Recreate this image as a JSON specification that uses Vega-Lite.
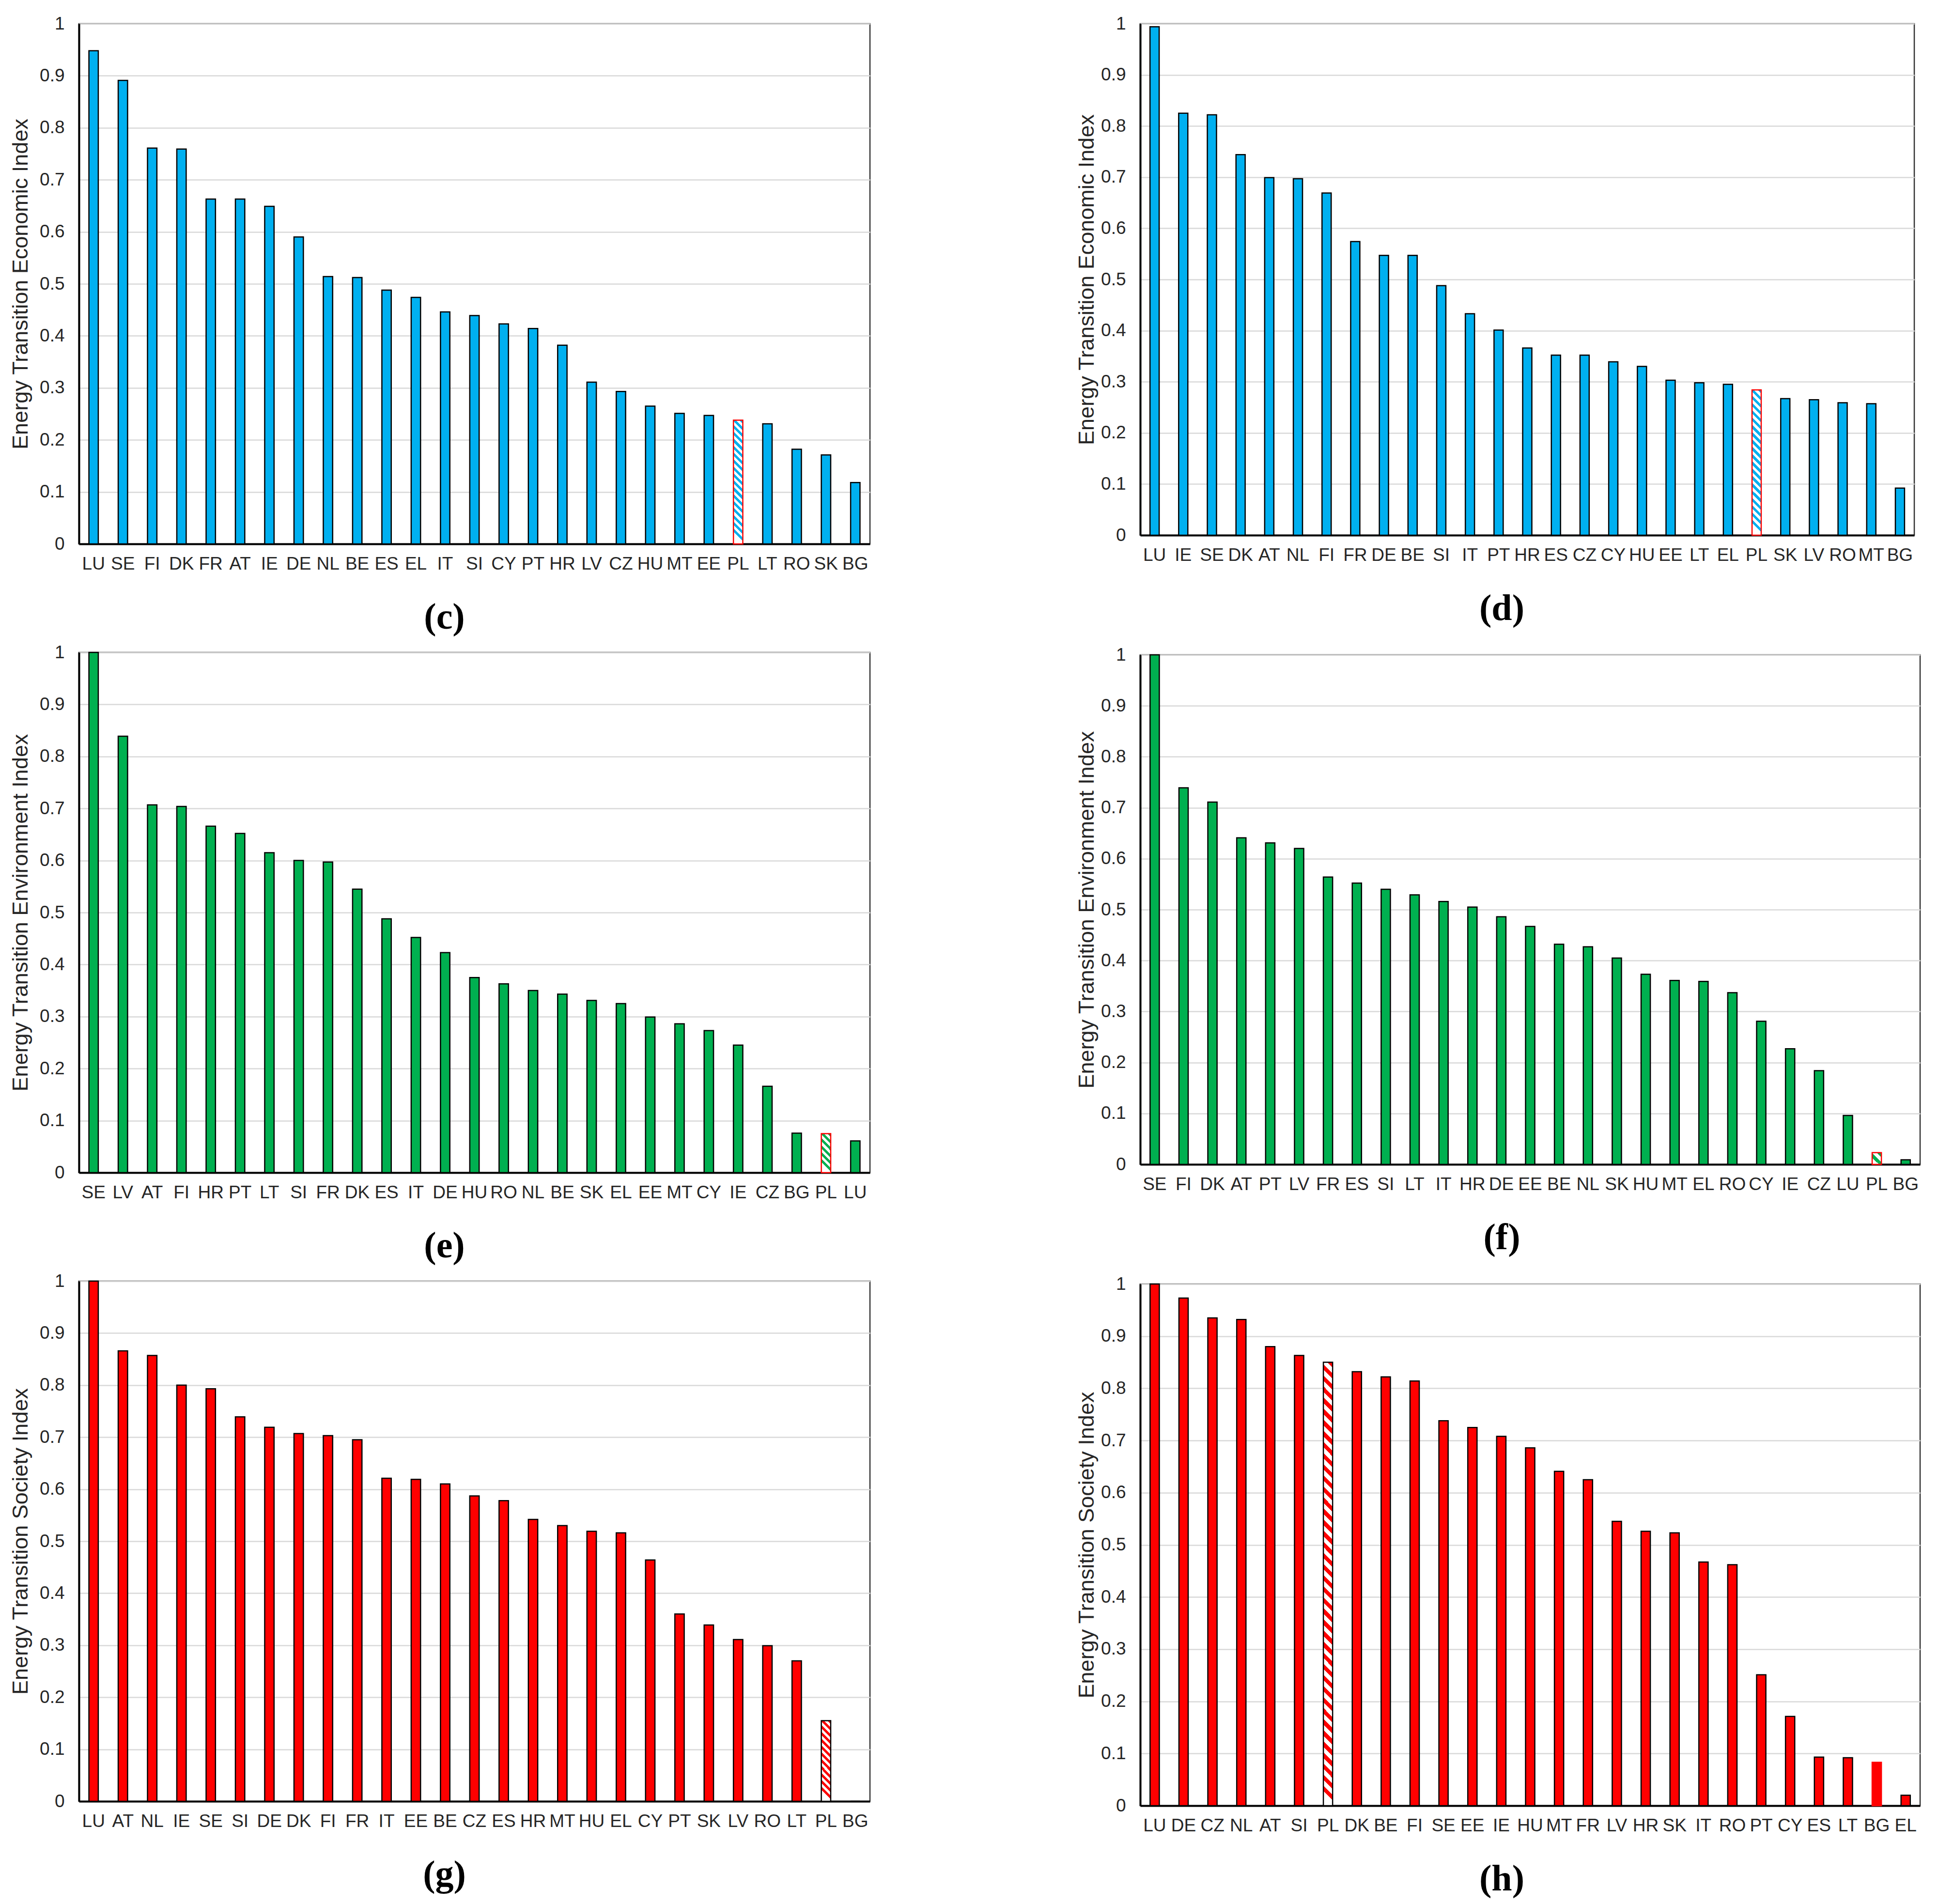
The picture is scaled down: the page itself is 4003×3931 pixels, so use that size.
{
"$schema": "https://vega.github.io/schema/vega-lite/v6.json",
"background": "white",
"padding": {"left": 19, "top": 28, "right": 0, "bottom": 0},
"spacing": 422,
"hconcat": [
{"spacing": 12, "vconcat": [
{"width": 1633, "height": 1074,
"data": {"values": [{"c":"LU","v":0.948},{"c":"SE","v":0.891},{"c":"FI","v":0.761},{"c":"DK","v":0.759},{"c":"FR","v":0.663},{"c":"AT","v":0.663},{"c":"IE","v":0.649},{"c":"DE","v":0.590},{"c":"NL","v":0.514},{"c":"BE","v":0.512},{"c":"ES","v":0.488},{"c":"EL","v":0.474},{"c":"IT","v":0.446},{"c":"SI","v":0.439},{"c":"CY","v":0.423},{"c":"PT","v":0.414},{"c":"HR","v":0.382},{"c":"LV","v":0.311},{"c":"CZ","v":0.293},{"c":"HU","v":0.265},{"c":"MT","v":0.251},{"c":"EE","v":0.247},{"c":"PL","v":0.238},{"c":"LT","v":0.231},{"c":"RO","v":0.182},{"c":"SK","v":0.171},{"c":"BG","v":0.118}]},
"mark": {"type": "bar", "width": {"band": 0.32}, "strokeWidth": 2.5},
"encoding": {
"x": {"field": "c", "type": "nominal", "sort": null, "scale": {"paddingInner": 0, "paddingOuter": 0}, "axis": {"title": "(c)", "titleX": 754}},
"y": {"field": "v", "type": "quantitative", "scale": {"domain": [0, 1], "nice": false}, "axis": {"title": "Energy Transition Economic Index", "titlePadding": 16, "values": [0,0.1,0.2,0.3,0.4,0.5,0.6,0.7,0.8,0.9,1], "format": "~g"}},
"fill": {"condition": {"test": "datum.c === 'PL'", "value": {"gradient": "linear", "x1": 1, "y1": 0, "x2": 0.924, "y2": 1, "stops": [
{"offset":0,"color":"#00B0F0"},{"offset":0.0278,"color":"#00B0F0"},{"offset":0.0278,"color":"#FFF"},{"offset":0.0556,"color":"#FFF"},
{"offset":0.0556,"color":"#00B0F0"},{"offset":0.0833,"color":"#00B0F0"},{"offset":0.0833,"color":"#FFF"},{"offset":0.1111,"color":"#FFF"},
{"offset":0.1111,"color":"#00B0F0"},{"offset":0.1389,"color":"#00B0F0"},{"offset":0.1389,"color":"#FFF"},{"offset":0.1667,"color":"#FFF"},
{"offset":0.1667,"color":"#00B0F0"},{"offset":0.1944,"color":"#00B0F0"},{"offset":0.1944,"color":"#FFF"},{"offset":0.2222,"color":"#FFF"},
{"offset":0.2222,"color":"#00B0F0"},{"offset":0.25,"color":"#00B0F0"},{"offset":0.25,"color":"#FFF"},{"offset":0.2778,"color":"#FFF"},
{"offset":0.2778,"color":"#00B0F0"},{"offset":0.3056,"color":"#00B0F0"},{"offset":0.3056,"color":"#FFF"},{"offset":0.3333,"color":"#FFF"},
{"offset":0.3333,"color":"#00B0F0"},{"offset":0.3611,"color":"#00B0F0"},{"offset":0.3611,"color":"#FFF"},{"offset":0.3889,"color":"#FFF"},
{"offset":0.3889,"color":"#00B0F0"},{"offset":0.4167,"color":"#00B0F0"},{"offset":0.4167,"color":"#FFF"},{"offset":0.4444,"color":"#FFF"},
{"offset":0.4444,"color":"#00B0F0"},{"offset":0.4722,"color":"#00B0F0"},{"offset":0.4722,"color":"#FFF"},{"offset":0.5,"color":"#FFF"},
{"offset":0.5,"color":"#00B0F0"},{"offset":0.5278,"color":"#00B0F0"},{"offset":0.5278,"color":"#FFF"},{"offset":0.5556,"color":"#FFF"},
{"offset":0.5556,"color":"#00B0F0"},{"offset":0.5833,"color":"#00B0F0"},{"offset":0.5833,"color":"#FFF"},{"offset":0.6111,"color":"#FFF"},
{"offset":0.6111,"color":"#00B0F0"},{"offset":0.6389,"color":"#00B0F0"},{"offset":0.6389,"color":"#FFF"},{"offset":0.6667,"color":"#FFF"},
{"offset":0.6667,"color":"#00B0F0"},{"offset":0.6944,"color":"#00B0F0"},{"offset":0.6944,"color":"#FFF"},{"offset":0.7222,"color":"#FFF"},
{"offset":0.7222,"color":"#00B0F0"},{"offset":0.75,"color":"#00B0F0"},{"offset":0.75,"color":"#FFF"},{"offset":0.7778,"color":"#FFF"},
{"offset":0.7778,"color":"#00B0F0"},{"offset":0.8056,"color":"#00B0F0"},{"offset":0.8056,"color":"#FFF"},{"offset":0.8333,"color":"#FFF"},
{"offset":0.8333,"color":"#00B0F0"},{"offset":0.8611,"color":"#00B0F0"},{"offset":0.8611,"color":"#FFF"},{"offset":0.8889,"color":"#FFF"},
{"offset":0.8889,"color":"#00B0F0"},{"offset":0.9167,"color":"#00B0F0"},{"offset":0.9167,"color":"#FFF"},{"offset":0.9444,"color":"#FFF"},
{"offset":0.9444,"color":"#00B0F0"},{"offset":0.9722,"color":"#00B0F0"},{"offset":0.9722,"color":"#FFF"},{"offset":1,"color":"#FFF"}]}}, "value": "#00B0F0"},
"stroke": {"condition": {"test": "datum.c === 'PL'", "value": "#FF0000"}, "value": "#000000"}
}},
{"width": 1633, "height": 1074,
"data": {"values": [{"c":"SE","v":1.0},{"c":"LV","v":0.839},{"c":"AT","v":0.707},{"c":"FI","v":0.704},{"c":"HR","v":0.666},{"c":"PT","v":0.652},{"c":"LT","v":0.615},{"c":"SI","v":0.600},{"c":"FR","v":0.597},{"c":"DK","v":0.545},{"c":"ES","v":0.488},{"c":"IT","v":0.452},{"c":"DE","v":0.423},{"c":"HU","v":0.375},{"c":"RO","v":0.363},{"c":"NL","v":0.350},{"c":"BE","v":0.343},{"c":"SK","v":0.331},{"c":"EL","v":0.325},{"c":"EE","v":0.299},{"c":"MT","v":0.286},{"c":"CY","v":0.273},{"c":"IE","v":0.245},{"c":"CZ","v":0.166},{"c":"BG","v":0.076},{"c":"PL","v":0.075},{"c":"LU","v":0.061}]},
"mark": {"type": "bar", "width": {"band": 0.32}, "strokeWidth": 2.5},
"encoding": {
"x": {"field": "c", "type": "nominal", "sort": null, "scale": {"paddingInner": 0, "paddingOuter": 0}, "axis": {"title": "(e)", "titleX": 754}},
"y": {"field": "v", "type": "quantitative", "scale": {"domain": [0, 1], "nice": false}, "axis": {"title": "Energy Transition Environment Index", "titlePadding": 16, "values": [0,0.1,0.2,0.3,0.4,0.5,0.6,0.7,0.8,0.9,1], "format": "~g"}},
"fill": {"condition": {"test": "datum.c === 'PL'", "value": {"gradient": "linear", "x1": 1, "y1": 0, "x2": 0.759, "y2": 1, "stops": [
{"offset":0,"color":"#00B050"},{"offset":0.0833,"color":"#00B050"},{"offset":0.0833,"color":"#FFF"},{"offset":0.1667,"color":"#FFF"},
{"offset":0.1667,"color":"#00B050"},{"offset":0.25,"color":"#00B050"},{"offset":0.25,"color":"#FFF"},{"offset":0.3333,"color":"#FFF"},
{"offset":0.3333,"color":"#00B050"},{"offset":0.4167,"color":"#00B050"},{"offset":0.4167,"color":"#FFF"},{"offset":0.5,"color":"#FFF"},
{"offset":0.5,"color":"#00B050"},{"offset":0.5833,"color":"#00B050"},{"offset":0.5833,"color":"#FFF"},{"offset":0.6667,"color":"#FFF"},
{"offset":0.6667,"color":"#00B050"},{"offset":0.75,"color":"#00B050"},{"offset":0.75,"color":"#FFF"},{"offset":0.8333,"color":"#FFF"},
{"offset":0.8333,"color":"#00B050"},{"offset":0.9167,"color":"#00B050"},{"offset":0.9167,"color":"#FFF"},{"offset":1,"color":"#FFF"}]}}, "value": "#00B050"},
"stroke": {"condition": {"test": "datum.c === 'PL'", "value": "#FF0000"}, "value": "#000000"}
}},
{"width": 1633, "height": 1074,
"data": {"values": [{"c":"LU","v":1.0},{"c":"AT","v":0.866},{"c":"NL","v":0.857},{"c":"IE","v":0.800},{"c":"SE","v":0.793},{"c":"SI","v":0.739},{"c":"DE","v":0.719},{"c":"DK","v":0.707},{"c":"FI","v":0.703},{"c":"FR","v":0.695},{"c":"IT","v":0.621},{"c":"EE","v":0.619},{"c":"BE","v":0.610},{"c":"CZ","v":0.587},{"c":"ES","v":0.578},{"c":"HR","v":0.542},{"c":"MT","v":0.530},{"c":"HU","v":0.519},{"c":"EL","v":0.516},{"c":"CY","v":0.464},{"c":"PT","v":0.360},{"c":"SK","v":0.339},{"c":"LV","v":0.311},{"c":"RO","v":0.299},{"c":"LT","v":0.270},{"c":"PL","v":0.155},{"c":"BG","v":0.0}]},
"mark": {"type": "bar", "width": {"band": 0.32}, "strokeWidth": 2.5},
"encoding": {
"x": {"field": "c", "type": "nominal", "sort": null, "scale": {"paddingInner": 0, "paddingOuter": 0}, "axis": {"title": "(g)", "titleX": 754}},
"y": {"field": "v", "type": "quantitative", "scale": {"domain": [0, 1], "nice": false}, "axis": {"title": "Energy Transition Society Index", "titlePadding": 16, "values": [0,0.1,0.2,0.3,0.4,0.5,0.6,0.7,0.8,0.9,1], "format": "~g"}},
"fill": {"condition": {"test": "datum.c === 'PL'", "value": {"gradient": "linear", "x1": 1, "y1": 0, "x2": 0.883, "y2": 1, "stops": [
{"offset":0,"color":"#FF0000"},{"offset":0.0417,"color":"#FF0000"},{"offset":0.0417,"color":"#FFF"},{"offset":0.0833,"color":"#FFF"},
{"offset":0.0833,"color":"#FF0000"},{"offset":0.125,"color":"#FF0000"},{"offset":0.125,"color":"#FFF"},{"offset":0.1667,"color":"#FFF"},
{"offset":0.1667,"color":"#FF0000"},{"offset":0.2083,"color":"#FF0000"},{"offset":0.2083,"color":"#FFF"},{"offset":0.25,"color":"#FFF"},
{"offset":0.25,"color":"#FF0000"},{"offset":0.2917,"color":"#FF0000"},{"offset":0.2917,"color":"#FFF"},{"offset":0.3333,"color":"#FFF"},
{"offset":0.3333,"color":"#FF0000"},{"offset":0.375,"color":"#FF0000"},{"offset":0.375,"color":"#FFF"},{"offset":0.4167,"color":"#FFF"},
{"offset":0.4167,"color":"#FF0000"},{"offset":0.4583,"color":"#FF0000"},{"offset":0.4583,"color":"#FFF"},{"offset":0.5,"color":"#FFF"},
{"offset":0.5,"color":"#FF0000"},{"offset":0.5417,"color":"#FF0000"},{"offset":0.5417,"color":"#FFF"},{"offset":0.5833,"color":"#FFF"},
{"offset":0.5833,"color":"#FF0000"},{"offset":0.625,"color":"#FF0000"},{"offset":0.625,"color":"#FFF"},{"offset":0.6667,"color":"#FFF"},
{"offset":0.6667,"color":"#FF0000"},{"offset":0.7083,"color":"#FF0000"},{"offset":0.7083,"color":"#FFF"},{"offset":0.75,"color":"#FFF"},
{"offset":0.75,"color":"#FF0000"},{"offset":0.7917,"color":"#FF0000"},{"offset":0.7917,"color":"#FFF"},{"offset":0.8333,"color":"#FFF"},
{"offset":0.8333,"color":"#FF0000"},{"offset":0.875,"color":"#FF0000"},{"offset":0.875,"color":"#FFF"},{"offset":0.9167,"color":"#FFF"},
{"offset":0.9167,"color":"#FF0000"},{"offset":0.9583,"color":"#FF0000"},{"offset":0.9583,"color":"#FFF"},{"offset":1,"color":"#FFF"}]}}, "value": "#FF0000"},
"stroke": {"value": "#000000"}
}}
]},
{"spacing": 35, "vconcat": [
{"width": 1598, "height": 1056,
"data": {"values": [{"c":"LU","v":0.994},{"c":"IE","v":0.825},{"c":"SE","v":0.822},{"c":"DK","v":0.744},{"c":"AT","v":0.699},{"c":"NL","v":0.697},{"c":"FI","v":0.669},{"c":"FR","v":0.574},{"c":"DE","v":0.547},{"c":"BE","v":0.547},{"c":"SI","v":0.488},{"c":"IT","v":0.433},{"c":"PT","v":0.401},{"c":"HR","v":0.366},{"c":"ES","v":0.352},{"c":"CZ","v":0.352},{"c":"CY","v":0.339},{"c":"HU","v":0.330},{"c":"EE","v":0.303},{"c":"LT","v":0.298},{"c":"EL","v":0.295},{"c":"PL","v":0.284},{"c":"SK","v":0.267},{"c":"LV","v":0.265},{"c":"RO","v":0.259},{"c":"MT","v":0.257},{"c":"BG","v":0.092}]},
"mark": {"type": "bar", "width": {"band": 0.32}, "strokeWidth": 2.5},
"encoding": {
"x": {"field": "c", "type": "nominal", "sort": null, "scale": {"paddingInner": 0, "paddingOuter": 0}, "axis": {"title": "(d)", "titleX": 746}},
"y": {"field": "v", "type": "quantitative", "scale": {"domain": [0, 1], "nice": false}, "axis": {"title": "Energy Transition Economic Index", "titlePadding": 6, "values": [0,0.1,0.2,0.3,0.4,0.5,0.6,0.7,0.8,0.9,1], "format": "~g"}},
"fill": {"condition": {"test": "datum.c === 'PL'", "value": {"gradient": "linear", "x1": 1, "y1": 0, "x2": 0.937, "y2": 1, "stops": [
{"offset":0,"color":"#00B0F0"},{"offset":0.025,"color":"#00B0F0"},{"offset":0.025,"color":"#FFF"},{"offset":0.05,"color":"#FFF"},
{"offset":0.05,"color":"#00B0F0"},{"offset":0.075,"color":"#00B0F0"},{"offset":0.075,"color":"#FFF"},{"offset":0.1,"color":"#FFF"},
{"offset":0.1,"color":"#00B0F0"},{"offset":0.125,"color":"#00B0F0"},{"offset":0.125,"color":"#FFF"},{"offset":0.15,"color":"#FFF"},
{"offset":0.15,"color":"#00B0F0"},{"offset":0.175,"color":"#00B0F0"},{"offset":0.175,"color":"#FFF"},{"offset":0.2,"color":"#FFF"},
{"offset":0.2,"color":"#00B0F0"},{"offset":0.225,"color":"#00B0F0"},{"offset":0.225,"color":"#FFF"},{"offset":0.25,"color":"#FFF"},
{"offset":0.25,"color":"#00B0F0"},{"offset":0.275,"color":"#00B0F0"},{"offset":0.275,"color":"#FFF"},{"offset":0.3,"color":"#FFF"},
{"offset":0.3,"color":"#00B0F0"},{"offset":0.325,"color":"#00B0F0"},{"offset":0.325,"color":"#FFF"},{"offset":0.35,"color":"#FFF"},
{"offset":0.35,"color":"#00B0F0"},{"offset":0.375,"color":"#00B0F0"},{"offset":0.375,"color":"#FFF"},{"offset":0.4,"color":"#FFF"},
{"offset":0.4,"color":"#00B0F0"},{"offset":0.425,"color":"#00B0F0"},{"offset":0.425,"color":"#FFF"},{"offset":0.45,"color":"#FFF"},
{"offset":0.45,"color":"#00B0F0"},{"offset":0.475,"color":"#00B0F0"},{"offset":0.475,"color":"#FFF"},{"offset":0.5,"color":"#FFF"},
{"offset":0.5,"color":"#00B0F0"},{"offset":0.525,"color":"#00B0F0"},{"offset":0.525,"color":"#FFF"},{"offset":0.55,"color":"#FFF"},
{"offset":0.55,"color":"#00B0F0"},{"offset":0.575,"color":"#00B0F0"},{"offset":0.575,"color":"#FFF"},{"offset":0.6,"color":"#FFF"},
{"offset":0.6,"color":"#00B0F0"},{"offset":0.625,"color":"#00B0F0"},{"offset":0.625,"color":"#FFF"},{"offset":0.65,"color":"#FFF"},
{"offset":0.65,"color":"#00B0F0"},{"offset":0.675,"color":"#00B0F0"},{"offset":0.675,"color":"#FFF"},{"offset":0.7,"color":"#FFF"},
{"offset":0.7,"color":"#00B0F0"},{"offset":0.725,"color":"#00B0F0"},{"offset":0.725,"color":"#FFF"},{"offset":0.75,"color":"#FFF"},
{"offset":0.75,"color":"#00B0F0"},{"offset":0.775,"color":"#00B0F0"},{"offset":0.775,"color":"#FFF"},{"offset":0.8,"color":"#FFF"},
{"offset":0.8,"color":"#00B0F0"},{"offset":0.825,"color":"#00B0F0"},{"offset":0.825,"color":"#FFF"},{"offset":0.85,"color":"#FFF"},
{"offset":0.85,"color":"#00B0F0"},{"offset":0.875,"color":"#00B0F0"},{"offset":0.875,"color":"#FFF"},{"offset":0.9,"color":"#FFF"},
{"offset":0.9,"color":"#00B0F0"},{"offset":0.925,"color":"#00B0F0"},{"offset":0.925,"color":"#FFF"},{"offset":0.95,"color":"#FFF"},
{"offset":0.95,"color":"#00B0F0"},{"offset":0.975,"color":"#00B0F0"},{"offset":0.975,"color":"#FFF"},{"offset":1,"color":"#FFF"}]}}, "value": "#00B0F0"},
"stroke": {"condition": {"test": "datum.c === 'PL'", "value": "#FF0000"}, "value": "#000000"}
}},
{"width": 1610, "height": 1052,
"data": {"values": [{"c":"SE","v":1.0},{"c":"FI","v":0.739},{"c":"DK","v":0.711},{"c":"AT","v":0.641},{"c":"PT","v":0.631},{"c":"LV","v":0.620},{"c":"FR","v":0.564},{"c":"ES","v":0.552},{"c":"SI","v":0.540},{"c":"LT","v":0.529},{"c":"IT","v":0.516},{"c":"HR","v":0.505},{"c":"DE","v":0.486},{"c":"EE","v":0.467},{"c":"BE","v":0.432},{"c":"NL","v":0.427},{"c":"SK","v":0.405},{"c":"HU","v":0.373},{"c":"MT","v":0.361},{"c":"EL","v":0.359},{"c":"RO","v":0.337},{"c":"CY","v":0.281},{"c":"IE","v":0.227},{"c":"CZ","v":0.184},{"c":"LU","v":0.096},{"c":"PL","v":0.023},{"c":"BG","v":0.009}]},
"mark": {"type": "bar", "width": {"band": 0.32}, "strokeWidth": 2.5},
"encoding": {
"x": {"field": "c", "type": "nominal", "sort": null, "scale": {"paddingInner": 0, "paddingOuter": 0}, "axis": {"title": "(f)", "titleX": 746}},
"y": {"field": "v", "type": "quantitative", "scale": {"domain": [0, 1], "nice": false}, "axis": {"title": "Energy Transition Environment Index", "titlePadding": 6, "values": [0,0.1,0.2,0.3,0.4,0.5,0.6,0.7,0.8,0.9,1], "format": "~g"}},
"fill": {"condition": {"test": "datum.c === 'PL'", "value": {"gradient": "linear", "x1": 1, "y1": 0, "x2": 0.22, "y2": 1, "stops": [
{"offset":0,"color":"#00B050"},{"offset":0.25,"color":"#00B050"},{"offset":0.25,"color":"#FFF"},{"offset":0.5,"color":"#FFF"},
{"offset":0.5,"color":"#00B050"},{"offset":0.75,"color":"#00B050"},{"offset":0.75,"color":"#FFF"},{"offset":1,"color":"#FFF"}]}}, "value": "#00B050"},
"stroke": {"condition": {"test": "datum.c === 'PL'", "value": "#FF0000"}, "value": "#000000"}
}},
{"width": 1610, "height": 1077,
"data": {"values": [{"c":"LU","v":1.0},{"c":"DE","v":0.973},{"c":"CZ","v":0.935},{"c":"NL","v":0.932},{"c":"AT","v":0.880},{"c":"SI","v":0.863},{"c":"PL","v":0.850},{"c":"DK","v":0.832},{"c":"BE","v":0.822},{"c":"FI","v":0.814},{"c":"SE","v":0.738},{"c":"EE","v":0.725},{"c":"IE","v":0.708},{"c":"HU","v":0.686},{"c":"MT","v":0.641},{"c":"FR","v":0.625},{"c":"LV","v":0.545},{"c":"HR","v":0.526},{"c":"SK","v":0.523},{"c":"IT","v":0.467},{"c":"RO","v":0.462},{"c":"PT","v":0.251},{"c":"CY","v":0.171},{"c":"ES","v":0.093},{"c":"LT","v":0.092},{"c":"BG","v":0.083},{"c":"EL","v":0.020}]},
"mark": {"type": "bar", "width": {"band": 0.32}, "strokeWidth": 2.5},
"encoding": {
"x": {"field": "c", "type": "nominal", "sort": null, "scale": {"paddingInner": 0, "paddingOuter": 0}, "axis": {"title": "(h)", "titleX": 746}},
"y": {"field": "v", "type": "quantitative", "scale": {"domain": [0, 1], "nice": false}, "axis": {"title": "Energy Transition Society Index", "titlePadding": 6, "values": [0,0.1,0.2,0.3,0.4,0.5,0.6,0.7,0.8,0.9,1], "format": "~g"}},
"fill": {"condition": {"test": "datum.c === 'PL'", "value": {"gradient": "linear", "x1": 1, "y1": 0, "x2": 0.979, "y2": 1, "stops": [
{"offset":0,"color":"#FF0000"},{"offset":0.0125,"color":"#FF0000"},{"offset":0.0125,"color":"#FFF"},{"offset":0.025,"color":"#FFF"},
{"offset":0.025,"color":"#FF0000"},{"offset":0.0375,"color":"#FF0000"},{"offset":0.0375,"color":"#FFF"},{"offset":0.05,"color":"#FFF"},
{"offset":0.05,"color":"#FF0000"},{"offset":0.0625,"color":"#FF0000"},{"offset":0.0625,"color":"#FFF"},{"offset":0.075,"color":"#FFF"},
{"offset":0.075,"color":"#FF0000"},{"offset":0.0875,"color":"#FF0000"},{"offset":0.0875,"color":"#FFF"},{"offset":0.1,"color":"#FFF"},
{"offset":0.1,"color":"#FF0000"},{"offset":0.1125,"color":"#FF0000"},{"offset":0.1125,"color":"#FFF"},{"offset":0.125,"color":"#FFF"},
{"offset":0.125,"color":"#FF0000"},{"offset":0.1375,"color":"#FF0000"},{"offset":0.1375,"color":"#FFF"},{"offset":0.15,"color":"#FFF"},
{"offset":0.15,"color":"#FF0000"},{"offset":0.1625,"color":"#FF0000"},{"offset":0.1625,"color":"#FFF"},{"offset":0.175,"color":"#FFF"},
{"offset":0.175,"color":"#FF0000"},{"offset":0.1875,"color":"#FF0000"},{"offset":0.1875,"color":"#FFF"},{"offset":0.2,"color":"#FFF"},
{"offset":0.2,"color":"#FF0000"},{"offset":0.2125,"color":"#FF0000"},{"offset":0.2125,"color":"#FFF"},{"offset":0.225,"color":"#FFF"},
{"offset":0.225,"color":"#FF0000"},{"offset":0.2375,"color":"#FF0000"},{"offset":0.2375,"color":"#FFF"},{"offset":0.25,"color":"#FFF"},
{"offset":0.25,"color":"#FF0000"},{"offset":0.2625,"color":"#FF0000"},{"offset":0.2625,"color":"#FFF"},{"offset":0.275,"color":"#FFF"},
{"offset":0.275,"color":"#FF0000"},{"offset":0.2875,"color":"#FF0000"},{"offset":0.2875,"color":"#FFF"},{"offset":0.3,"color":"#FFF"},
{"offset":0.3,"color":"#FF0000"},{"offset":0.3125,"color":"#FF0000"},{"offset":0.3125,"color":"#FFF"},{"offset":0.325,"color":"#FFF"},
{"offset":0.325,"color":"#FF0000"},{"offset":0.3375,"color":"#FF0000"},{"offset":0.3375,"color":"#FFF"},{"offset":0.35,"color":"#FFF"},
{"offset":0.35,"color":"#FF0000"},{"offset":0.3625,"color":"#FF0000"},{"offset":0.3625,"color":"#FFF"},{"offset":0.375,"color":"#FFF"},
{"offset":0.375,"color":"#FF0000"},{"offset":0.3875,"color":"#FF0000"},{"offset":0.3875,"color":"#FFF"},{"offset":0.4,"color":"#FFF"},
{"offset":0.4,"color":"#FF0000"},{"offset":0.4125,"color":"#FF0000"},{"offset":0.4125,"color":"#FFF"},{"offset":0.425,"color":"#FFF"},
{"offset":0.425,"color":"#FF0000"},{"offset":0.4375,"color":"#FF0000"},{"offset":0.4375,"color":"#FFF"},{"offset":0.45,"color":"#FFF"},
{"offset":0.45,"color":"#FF0000"},{"offset":0.4625,"color":"#FF0000"},{"offset":0.4625,"color":"#FFF"},{"offset":0.475,"color":"#FFF"},
{"offset":0.475,"color":"#FF0000"},{"offset":0.4875,"color":"#FF0000"},{"offset":0.4875,"color":"#FFF"},{"offset":0.5,"color":"#FFF"},
{"offset":0.5,"color":"#FF0000"},{"offset":0.5125,"color":"#FF0000"},{"offset":0.5125,"color":"#FFF"},{"offset":0.525,"color":"#FFF"},
{"offset":0.525,"color":"#FF0000"},{"offset":0.5375,"color":"#FF0000"},{"offset":0.5375,"color":"#FFF"},{"offset":0.55,"color":"#FFF"},
{"offset":0.55,"color":"#FF0000"},{"offset":0.5625,"color":"#FF0000"},{"offset":0.5625,"color":"#FFF"},{"offset":0.575,"color":"#FFF"},
{"offset":0.575,"color":"#FF0000"},{"offset":0.5875,"color":"#FF0000"},{"offset":0.5875,"color":"#FFF"},{"offset":0.6,"color":"#FFF"},
{"offset":0.6,"color":"#FF0000"},{"offset":0.6125,"color":"#FF0000"},{"offset":0.6125,"color":"#FFF"},{"offset":0.625,"color":"#FFF"},
{"offset":0.625,"color":"#FF0000"},{"offset":0.6375,"color":"#FF0000"},{"offset":0.6375,"color":"#FFF"},{"offset":0.65,"color":"#FFF"},
{"offset":0.65,"color":"#FF0000"},{"offset":0.6625,"color":"#FF0000"},{"offset":0.6625,"color":"#FFF"},{"offset":0.675,"color":"#FFF"},
{"offset":0.675,"color":"#FF0000"},{"offset":0.6875,"color":"#FF0000"},{"offset":0.6875,"color":"#FFF"},{"offset":0.7,"color":"#FFF"},
{"offset":0.7,"color":"#FF0000"},{"offset":0.7125,"color":"#FF0000"},{"offset":0.7125,"color":"#FFF"},{"offset":0.725,"color":"#FFF"},
{"offset":0.725,"color":"#FF0000"},{"offset":0.7375,"color":"#FF0000"},{"offset":0.7375,"color":"#FFF"},{"offset":0.75,"color":"#FFF"},
{"offset":0.75,"color":"#FF0000"},{"offset":0.7625,"color":"#FF0000"},{"offset":0.7625,"color":"#FFF"},{"offset":0.775,"color":"#FFF"},
{"offset":0.775,"color":"#FF0000"},{"offset":0.7875,"color":"#FF0000"},{"offset":0.7875,"color":"#FFF"},{"offset":0.8,"color":"#FFF"},
{"offset":0.8,"color":"#FF0000"},{"offset":0.8125,"color":"#FF0000"},{"offset":0.8125,"color":"#FFF"},{"offset":0.825,"color":"#FFF"},
{"offset":0.825,"color":"#FF0000"},{"offset":0.8375,"color":"#FF0000"},{"offset":0.8375,"color":"#FFF"},{"offset":0.85,"color":"#FFF"},
{"offset":0.85,"color":"#FF0000"},{"offset":0.8625,"color":"#FF0000"},{"offset":0.8625,"color":"#FFF"},{"offset":0.875,"color":"#FFF"},
{"offset":0.875,"color":"#FF0000"},{"offset":0.8875,"color":"#FF0000"},{"offset":0.8875,"color":"#FFF"},{"offset":0.9,"color":"#FFF"},
{"offset":0.9,"color":"#FF0000"},{"offset":0.9125,"color":"#FF0000"},{"offset":0.9125,"color":"#FFF"},{"offset":0.925,"color":"#FFF"},
{"offset":0.925,"color":"#FF0000"},{"offset":0.9375,"color":"#FF0000"},{"offset":0.9375,"color":"#FFF"},{"offset":0.95,"color":"#FFF"},
{"offset":0.95,"color":"#FF0000"},{"offset":0.9625,"color":"#FF0000"},{"offset":0.9625,"color":"#FFF"},{"offset":0.975,"color":"#FFF"},
{"offset":0.975,"color":"#FF0000"},{"offset":0.9875,"color":"#FF0000"},{"offset":0.9875,"color":"#FFF"},{"offset":1,"color":"#FFF"}]}}, "value": "#FF0000"},
"stroke": {"condition": {"test": "datum.c === 'BG'", "value": "#FF0000"}, "value": "#000000"}
}}
]}
],
"config": {
"view": {"stroke": "#333333", "strokeWidth": 2.5},
"axis": {"domainColor": "#000000", "domainWidth": 4, "ticks": false, "tickSize": 0, "labelFont": "Liberation Sans", "labelFontSize": 37, "labelColor": "#262626", "gridColor": "#D9D9D9", "gridWidth": 2.5, "titleColor": "#262626"},
"axisX": {"grid": false, "labelAngle": 0, "labelPadding": 23, "labelOverlap": false, "titleFont": "Liberation Serif", "titleFontSize": 76, "titleFontWeight": "bold", "titlePadding": 55, "titleColor": "#000000"},
"axisY": {"grid": true, "labelPadding": 30, "titleFont": "Liberation Sans", "titleFontSize": 45, "titleFontWeight": "normal"}
}
}
